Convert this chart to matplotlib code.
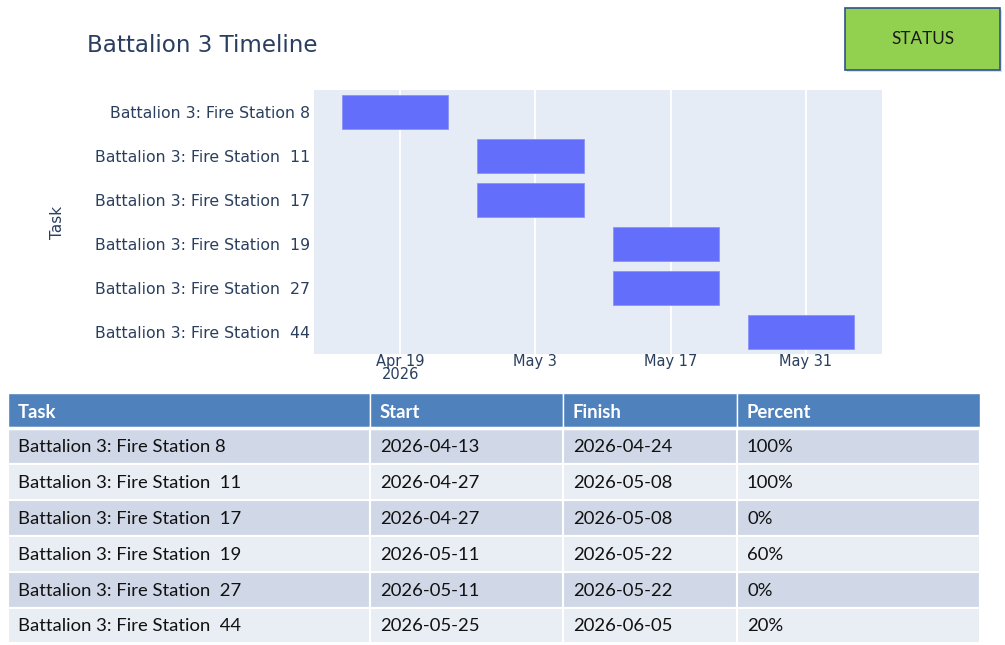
import matplotlib
matplotlib.use("Agg")
import matplotlib.pyplot as plt
import matplotlib.dates as mdates
from matplotlib.patches import Rectangle
import datetime as dt

# ---- data ----
tasks = ["Battalion 3: Fire Station 8", "Battalion 3: Fire Station  11",
         "Battalion 3: Fire Station  17", "Battalion 3: Fire Station  19",
         "Battalion 3: Fire Station  27", "Battalion 3: Fire Station  44"]
start = ["2026-04-13", "2026-04-27", "2026-04-27", "2026-05-11", "2026-05-11", "2026-05-25"]
finish = ["2026-04-24", "2026-05-08", "2026-05-08", "2026-05-22", "2026-05-22", "2026-06-05"]
percent = ["100%", "100%", "0%", "60%", "0%", "20%"]
headers = ["Task", "Start", "Finish", "Percent"]
tick_dates = ["2026-04-19", "2026-05-03", "2026-05-17", "2026-05-31"]
tick_labels = ["Apr 19\n2026", "May 3", "May 17", "May 31"]
x_range = ["2026-04-10 02:00", "2026-06-07 21:00"]

W, H = 1005, 645
fig = plt.figure(figsize=(W / 100, H / 100), dpi=100)
fig.patch.set_facecolor("white")

TXT = "#2a3f5f"
to_d = lambda s: dt.datetime.fromisoformat(s)

# ---- gantt ----
ax = fig.add_axes([314 / W, 1 - 354 / H, (882 - 314) / W, (354 - 90) / H])
ax.set_facecolor("#E5ECF6")
for i, (s, f) in enumerate(zip(start, finish)):
    s0 = mdates.date2num(to_d(s))
    f0 = mdates.date2num(to_d(f))
    ax.barh(i, f0 - s0, left=s0, height=0.78, color="#636EFA",
            edgecolor="#8a92fb", linewidth=0.6, zorder=3)
ax.set_ylim(len(tasks) - 0.5, -0.5)
ax.set_xlim(mdates.date2num(to_d(x_range[0])), mdates.date2num(to_d(x_range[1])))
ax.set_yticks(range(len(tasks)))
ax.set_yticklabels(tasks, fontsize=11.3, color=TXT, family="DejaVu Sans")
ax.set_xticks([mdates.date2num(to_d(d)) for d in tick_dates])
ax.set_xticklabels(tick_labels, fontsize=10.5, color=TXT, family="DejaVu Sans",
                   linespacing=0.85)
ax.tick_params(axis="x", length=0, pad=0)
ax.tick_params(axis="y", length=0, pad=3)
ax.grid(axis="x", color="white", linewidth=1.3, zorder=1)
ax.set_axisbelow(True)
for sp in ax.spines.values():
    sp.set_visible(False)

fig.text(57 / W, 1 - 222 / H, "Task", rotation=90, ha="center", va="center",
         fontsize=11, color=TXT, family="DejaVu Sans Condensed")
fig.text(87 / W, 1 - 45 / H, "Battalion 3 Timeline", ha="left", va="center",
         fontsize=16.6, color=TXT, family="DejaVu Sans")

# ---- overlay for table and status box ----
ov = fig.add_axes([0, 0, 1, 1], zorder=5)
ov.set_xlim(0, W)
ov.set_ylim(H, 0)
ov.axis("off")
ov.patch.set_alpha(0)

# status box
ov.add_patch(Rectangle((847, 10), 155, 62, facecolor="#b0b4b8", edgecolor="none", alpha=0.45))
ov.add_patch(Rectangle((845, 8), 155, 62, facecolor="#92D050", edgecolor="#2F528F", linewidth=1.2))
ov.text(922.5, 39, "STATUS", ha="center", va="center", fontsize=12.3,
        family="Lato", color="#1a1a1a")

# table
col_x = [8, 370, 563, 737, 980]
row_y = [393, 428, 464, 500, 536, 572, 608, 643]
rows = [list(r) for r in zip(tasks, start, finish, percent)]
all_rows = [headers] + rows
for r, vals in enumerate(all_rows):
    y0, y1 = row_y[r], row_y[r + 1]
    if r == 0:
        fc = "#4F81BD"
    elif r % 2 == 1:
        fc = "#D0D8E8"
    else:
        fc = "#E9EDF4"
    for c, v in enumerate(vals):
        x0, x1 = col_x[c], col_x[c + 1]
        ov.add_patch(Rectangle((x0, y0), x1 - x0, y1 - y0, facecolor=fc,
                               edgecolor="white", linewidth=1.5 if r > 0 else 1.0))
        ov.text(x0 + 10, (y0 + y1) / 2 + 1.5 if r == 0 else (y0 + y1) / 2 + 0.5, v,
                ha="left", va="center",
                fontsize=13.3, family="Lato",
                fontweight="bold" if r == 0 else "normal",
                color="white" if r == 0 else "#111111")
# thicker white line under header
ov.plot([col_x[0], col_x[-1]], [row_y[1], row_y[1]], color="white", linewidth=2.5)

fig.savefig("out.png", dpi=100)
